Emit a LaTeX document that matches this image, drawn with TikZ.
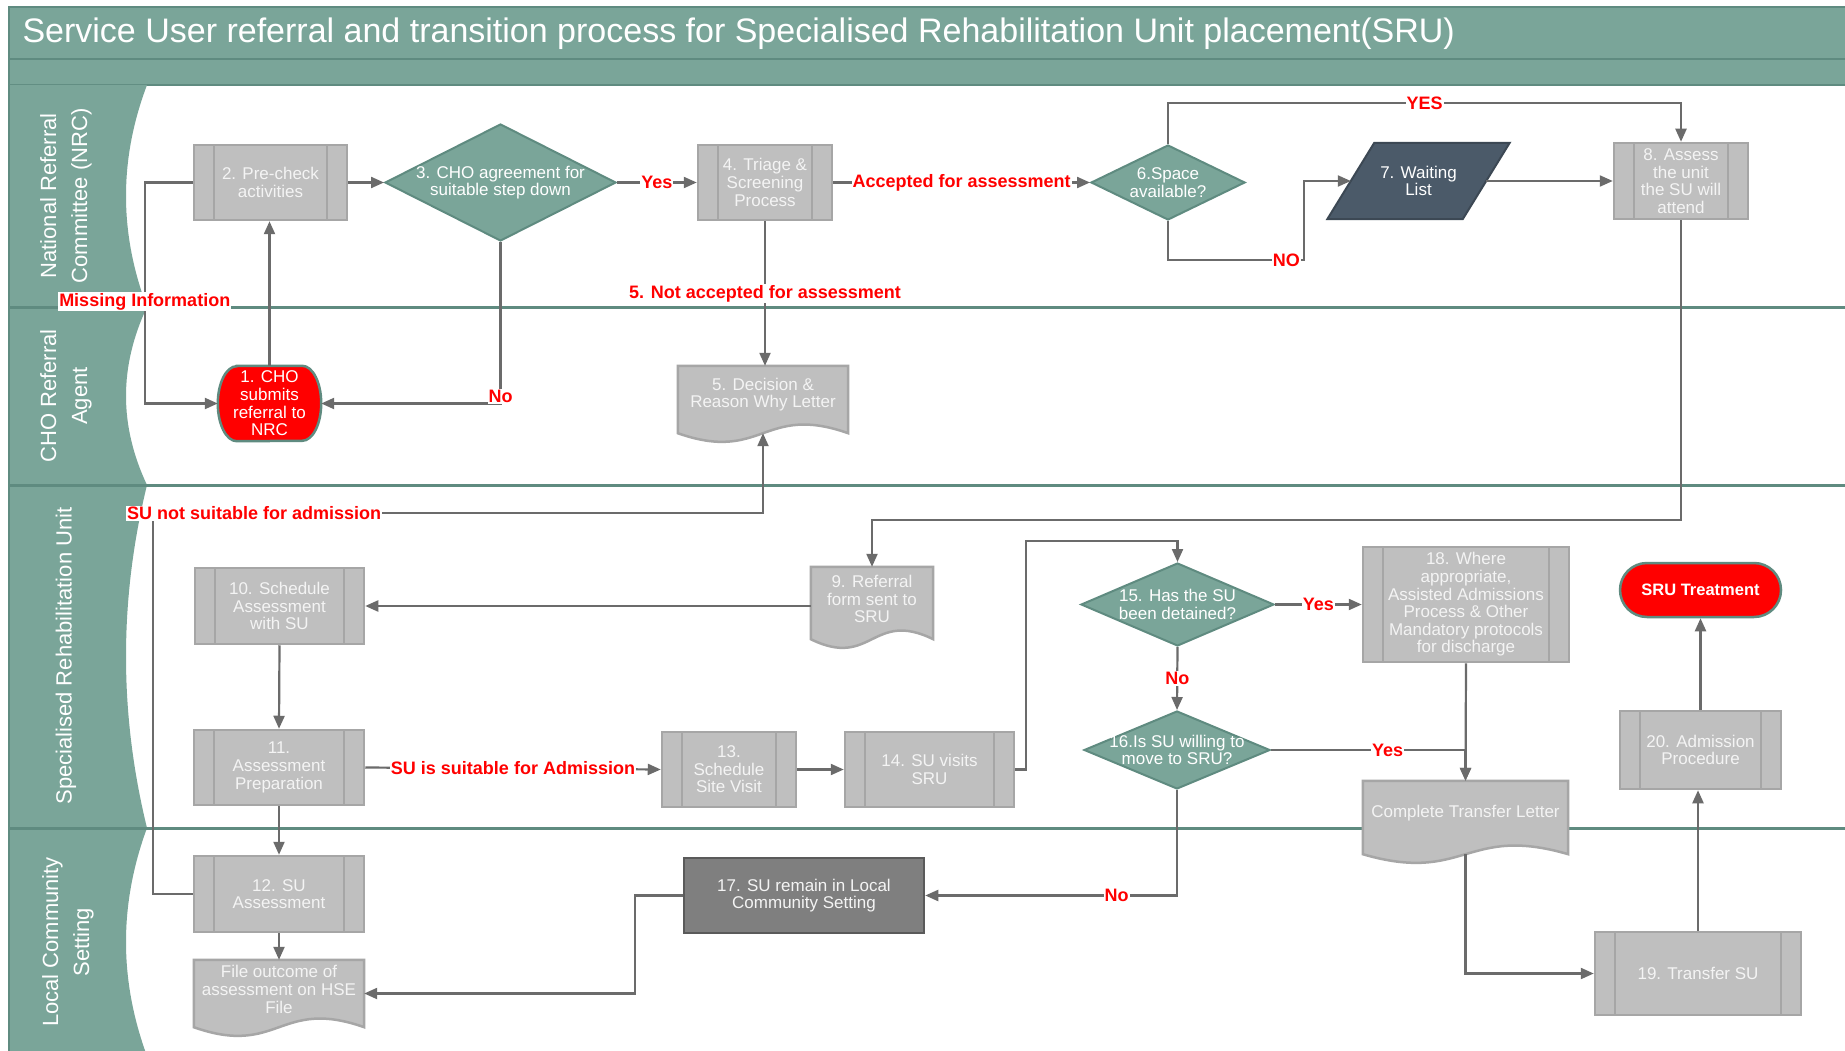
\documentclass[tikz,border=0pt]{standalone}
\usepackage{fontspec}
\setmainfont{Liberation Sans}
\usetikzlibrary{shapes.geometric,arrows.meta,calc}
\pgfdeclarelayer{lanes}
\pgfdeclarelayer{bg}
\pgfsetlayers{lanes,bg,main}
\newcommand\boxfnt{\fontsize{17}{17.6}\selectfont}
\newcommand\lblfnt{\fontsize{18}{20}\selectfont\bfseries}
\newcommand\lanefnt{\fontsize{22}{31}\selectfont}
\newcommand\titlefnt{\fontsize{34}{38}\selectfont}
\definecolor{teala}{HTML}{7AA599}
\definecolor{tealb}{HTML}{5F8B80}
\definecolor{boxfill}{HTML}{BFBFBF}
\definecolor{boxline}{HTML}{A6A6A6}
\definecolor{boxtext}{HTML}{F4F4F4}
\definecolor{connc}{HTML}{6B6B6B}
\definecolor{slate}{HTML}{4B5A69}
\definecolor{dkbox}{HTML}{7F7F7F}
\definecolor{dkline}{HTML}{5A5A5A}
\tikzset{
 arrowline/.style={draw=connc, line width=2.2pt, -{Triangle[length=13pt,width=11pt]}},
 plainline/.style={draw=connc, line width=2.2pt},
 procbox/.style={rectangle, draw=boxline, line width=2.5pt, fill=boxfill, text=boxtext,
   font=\boxfnt, align=center, inner sep=0pt,
   path picture={\draw[boxline,line width=2.5pt]
     ([xshift=20pt]path picture bounding box.north west) -- ([xshift=20pt]path picture bounding box.south west)
     ([xshift=-20pt]path picture bounding box.north east) -- ([xshift=-20pt]path picture bounding box.south east);}},
 decis/.style={diamond, draw=tealb, line width=2pt, fill=teala, inner sep=0pt},
 dectext/.style={text=white, font=\boxfnt, align=center},
 doctext/.style={text=boxtext, font=\boxfnt, align=center},
 ghost/.style={rectangle, draw=none, inner sep=0pt},
 lbl/.style={fill=white, text=red, font=\lblfnt, inner sep=1pt},
 lanetext/.style={text=white, font=\lanefnt, align=center, rotate=90},
 docshape/.style={draw=boxline, line width=2.5pt, fill=boxfill},
}
\begin{document}
\begin{tikzpicture}[x=1pt,y=-1pt]
\useasboundingbox (0,0) rectangle (1845,1051);

% ---------- lanes ----------
\begin{pgfonlayer}{lanes}
 \fill[white] (0,0) rectangle (1845,1051);
 \draw[fill=teala, draw=tealb, line width=2pt] (9,7) rectangle (1852,59);
 \draw[fill=teala, draw=tealb, line width=2pt] (9,59) rectangle (1852,85);
 \foreach \t/\b in {85/307, 307/485, 485/828, 828/1056} {
   \fill[teala] (9,\t) -- (147,\t) .. controls (119,{\t+(\b-\t)/3}) and (119,{\b-(\b-\t)/3}) .. (147,\b) -- (9,\b) -- cycle;
 }
 \foreach \y in {307,485,828} { \draw[tealb, line width=3pt] (9,\y) -- (1845,\y); }
 \draw[tealb, line width=2pt] (9,85) -- (9,1056);
\end{pgfonlayer}

\node[anchor=base west, text=white, font=\titlefnt] (title) at (19,43)
  {Service User referral and transition process for Specialised Rehabilitation Unit placement(SRU)};

\node[lanetext] (L1) at (66,196) {National Referral\\Committee (NRC)};
\node[lanetext] (L2) at (66,396) {CHO Referral\\Agent};
\node[lanetext] (L3) at (66,656) {Specialised Rehabilitation Unit};
\node[lanetext] (L4) at (68,942) {Local Community\\Setting};

% ---------- nodes ----------
\node[ghost, minimum width=103pt, minimum height=75pt, text=white, font=\boxfnt, align=center] (n1) at (269.5,403.5) {1. CHO\\submits\\referral to\\NRC};
\node[procbox, minimum width=153pt, minimum height=75pt] (n2) at (270.5,182.5) {2. Pre-check\\activities};
\node[decis, minimum width=231pt, minimum height=117pt, label={[dectext]center:{3. CHO agreement for\\suitable step down}}] (d3) at (500.5,182.5) {};
\node[procbox, minimum width=134pt, minimum height=75pt] (n4) at (765,182.5) {4. Triage \&\\Screening\\Process};
\node[ghost, minimum width=170pt, minimum height=67pt, label={[doctext,yshift=5pt]center:{5. Decision \&\\Reason Why Letter}}] (n5) at (763,399.5) {};
\node[decis, minimum width=154pt, minimum height=75pt, label={[dectext]center:{6.Space\\available?}}] (d6) at (1168,182.5) {};
\node[ghost, minimum width=135pt, minimum height=76pt, text=white, font=\boxfnt, align=center] (n7) at (1418.5,181) {7. Waiting\\List};
\node[procbox, minimum width=134pt, minimum height=76pt] (n8) at (1681,181) {8. Assess\\the unit\\the SU will\\attend};
\node[ghost, minimum width=122pt, minimum height=72pt, label={[doctext,yshift=4pt]center:{9. Referral\\form sent to\\SRU}}] (n9) at (872,603) {};
\node[procbox, minimum width=169pt, minimum height=76pt] (n10) at (279.5,606) {10. Schedule\\Assessment\\with SU};
\node[procbox, minimum width=170pt, minimum height=75pt] (n11) at (279,767.5) {11.\\Assessment\\Preparation};
\node[procbox, minimum width=170pt, minimum height=76pt] (n12) at (279,894) {12. SU\\Assessment};
\node[ghost, minimum width=170pt, minimum height=67pt, label={[doctext,yshift=4pt]center:{File outcome of\\assessment on HSE\\File}}] (fileo) at (279,993.5) {};
\node[procbox, minimum width=134pt, minimum height=75pt] (n13) at (729,769.5) {13.\\Schedule\\Site Visit};
\node[procbox, minimum width=169pt, minimum height=75pt] (n14) at (929.5,769.5) {14. SU visits\\SRU};
\node[decis, minimum width=193pt, minimum height=83pt, label={[dectext]center:{15. Has the SU\\been detained?}}] (d15) at (1177.5,604.5) {};
\node[decis, minimum width=186pt, minimum height=78pt, label={[dectext]center:{16.Is SU willing to\\move to SRU?}}] (d16) at (1177,750) {};
\node[rectangle, draw=dkline, line width=2.5pt, fill=dkbox, text=boxtext, font=\boxfnt, align=center, minimum width=240pt, minimum height=75pt] (n17) at (804,895.5) {17. SU remain in Local\\Community Setting};
\node[procbox, minimum width=206pt, minimum height=115pt] (n18) at (1466,604.5) {18. Where\\appropriate,\\Assisted Admissions\\Process \& Other\\Mandatory protocols\\for discharge};
\node[ghost, minimum width=205pt, minimum height=73pt, label={[doctext,yshift=4.5pt]center:{Complete Transfer Letter}}] (ctl) at (1465.5,817.5) {};
\node[procbox, minimum width=206pt, minimum height=83pt] (n19) at (1698,973.5) {19. Transfer SU};
\node[procbox, minimum width=161pt, minimum height=78pt] (n20) at (1700.5,750) {20. Admission\\Procedure};
\node[rectangle, rounded corners=27pt, fill=red, draw=tealb, line width=2.5pt, minimum width=161pt, minimum height=54pt, text=white, font=\fontsize{16.5}{18}\selectfont\bfseries] (sru) at (1700.5,590) {SRU Treatment};

% ---------- custom shapes behind the texts ----------
\begin{pgfonlayer}{bg}
 \foreach \n in {n5,n9,fileo,ctl} {
  \draw[docshape] (\n.north west) -- (\n.north east) -- (\n.south east)
    .. controls ($(\n.south)+(0,-30)$) and ($(\n.south)+(0,30)$) .. (\n.south west) -- cycle;
 }
 \draw[fill=slate, draw=slate!80!black, line width=2pt]
   ([xshift=23.5pt]n7.north west) -- ([xshift=23.5pt]n7.north east)
   -- ([xshift=-23.5pt]n7.south east) -- ([xshift=-23.5pt]n7.south west) -- cycle;
 \draw[fill=red, draw=tealb, line width=2.5pt]
   ([xshift=19pt]n1.north west) -- ([xshift=-19pt]n1.north east)
   arc[start angle=90, end angle=-90, x radius=19pt, y radius=37.5pt]
   -- ([xshift=19pt]n1.south west)
   arc[start angle=270, end angle=90, x radius=19pt, y radius=37.5pt] -- cycle;
\end{pgfonlayer}

% ---------- connectors ----------
\draw[arrowline] (n1.north) -- (n1.north |- n2.south);
\draw[arrowline] (n2.west) -- ++(-48,0) |- node[lbl,pos=0.27] (lMI) {Missing Information} (n1.west);
\draw[arrowline] (n2.east) -- (d3.west);
\draw[arrowline] (d3.east) -- node[lbl] (lYes1) {Yes} (n4.west);
\draw[arrowline] (d3.south) |- node[lbl,pos=0.5,yshift=7pt] (lNo1) {No} (n1.east);
\draw[arrowline] (n4.east) -- node[lbl] (lAcc) {Accepted for assessment} (d6.west);
\draw[arrowline] (n4.south) -- node[lbl] (lNA) {5. Not accepted for assessment} (n4.south |- n5.north);
\draw[arrowline] (d6.north) -- ++(0,-41) -| node[lbl,pos=0.25] (lYES) {YES} (n8.north);
\draw[arrowline] (d6.south) -- ++(0,39) -- node[lbl,pos=0.87] (lNO) {NO} ++(136,0) |- (n7.west);
\draw[arrowline] (n7.east) -- (n8.west);
\draw[arrowline] (n8.south) -- ++(0,300) -| (n9.north);
\draw[arrowline] (n9.west |- n10.east) -- (n10.east);
\draw[arrowline] (n10.south) -- (n11.north);
\draw[arrowline] (n11.east) -- node[lbl] (lSA) {SU is suitable for Admission} (n13.west);
\draw[arrowline] (n13.east) -- (n14.west);
\draw[arrowline] (n14.east) -- ++(11,0) |- ($(d15.north)+(0,-21)$) -- (d15.north);
\draw[arrowline] (d15.east) -- node[lbl] (lYes2) {Yes} (n18.west);
\draw[arrowline] (d15.south) -- node[lbl] (lNo3) {No} (d16.north);
\draw[arrowline] (n18.south) -- (ctl.north);
\draw[arrowline] (d16.east) -| node[lbl,pos=0.3] (lYes3) {Yes} (ctl.north);
\draw[arrowline] (d16.south) |- node[lbl,pos=0.62] (lNo4) {No} (n17.east);
\draw[arrowline] (n17.west) -- ++(-48,0) |- (fileo.east);
\draw[arrowline] (n11.south) -- (n12.north);
\draw[arrowline] (n12.south) -- (fileo.north);
\draw[arrowline] (n12.west) -- ++(-40,0) |- node[lbl,pos=0.583] (lNS) {SU not suitable for admission} ($(n5.south)+(0,80)$) -- (n5.south);
\draw[arrowline] (ctl.south) |- (n19.west);
\draw[arrowline] (n19.north) -- (n19.north |- n20.south);
\draw[arrowline] (n20.north) -- (sru.south);
\end{tikzpicture}
\end{document}
